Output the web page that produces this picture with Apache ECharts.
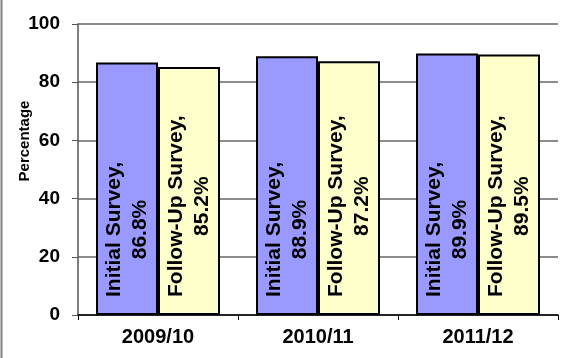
<!DOCTYPE html>
<html>
<head>
<meta charset="utf-8">
<script src="https://cdn.jsdelivr.net/npm/echarts@6/dist/echarts.min.js"></script>
<style>
html,body{margin:0;padding:0;background:#fff;}
#chart{width:565px;height:358px;}
</style>
</head>
<body>
<div id="chart"></div>
<script>
var categories = ['2009/10', '2010/11', '2011/12'];
var initialSurvey = [86.8, 88.9, 89.9];
var followUpSurvey = [85.2, 87.2, 89.5];
var seriesNames = ['Initial Survey', 'Follow-Up Survey'];
var yTicks = [0, 20, 40, 60, 80, 100];
var yAxisTitle = 'Percentage';

var FONT = 'Arial, "Liberation Sans", sans-serif';

function barLabel(name) {
  return {
    show: true,
    position: 'insideBottom',
    distance: 18,
    rotate: 90,
    align: 'left',
    verticalAlign: 'middle',
    formatter: function (p) {
      return '{a|' + name + ',}\n{a|' + p.value.toFixed(1) + '%}';
    },
    rich: {
      a: {
        align: 'center',
        fontFamily: FONT,
        fontWeight: 'bold',
        fontSize: 21,
        lineHeight: 26,
        color: '#000'
      }
    }
  };
}

var chart = echarts.init(document.getElementById('chart'), null, {renderer: 'canvas'});
chart.setOption({
  animation: false,
  backgroundColor: '#fff',
  grid: {left: 78, right: 7, top: 24, bottom: 43, containLabel: false},
  graphic: [{
    type: 'line',
    shape: {x1: 1.5, y1: 0, x2: 1.5, y2: 358},
    style: {stroke: '#808080', lineWidth: 2}
  }, {
    type: 'text',
    x: 25,
    y: 141,
    rotation: Math.PI / 2,
    style: {
      text: yAxisTitle,
      fontFamily: FONT,
      fontWeight: 'bold',
      fontSize: 15,
      fill: '#000',
      align: 'center',
      verticalAlign: 'middle'
    }
  }],
  xAxis: {
    type: 'category',
    data: categories,
    axisLine: {lineStyle: {color: '#000', width: 1.5}},
    axisTick: {show: true, length: 5, lineStyle: {color: '#000'}},
    axisLabel: {
      fontFamily: FONT, fontWeight: 'bold', fontSize: 20, color: '#000', margin: 12
    },
    splitLine: {show: false}
  },
  yAxis: {
    type: 'value',
    min: yTicks[0],
    max: yTicks[yTicks.length - 1],
    interval: 20,
    axisLine: {show: true, lineStyle: {color: '#555', width: 1.5}},
    axisTick: {show: true, length: 6, lineStyle: {color: '#555'}},
    axisLabel: {
      fontFamily: FONT, fontWeight: 'bold', fontSize: 19, color: '#000', margin: 18,
      formatter: function (v) { return yTicks.indexOf(v) >= 0 ? String(v) : ''; }
    },
    splitLine: {show: true, lineStyle: {color: '#8c8c8c', width: 2}}
  },
  series: [
    {
      name: seriesNames[0],
      type: 'bar',
      data: initialSurvey,
      barGap: '0%',
      barCategoryGap: '22.5%',
      itemStyle: {color: '#9999FF', borderColor: '#000', borderWidth: 2},
      label: barLabel(seriesNames[0])
    },
    {
      name: seriesNames[1],
      type: 'bar',
      data: followUpSurvey,
      barGap: '0%',
      barCategoryGap: '22.5%',
      itemStyle: {color: '#FFFFCC', borderColor: '#000', borderWidth: 2},
      label: barLabel(seriesNames[1])
    }
  ]
});
</script>
</body>
</html>
